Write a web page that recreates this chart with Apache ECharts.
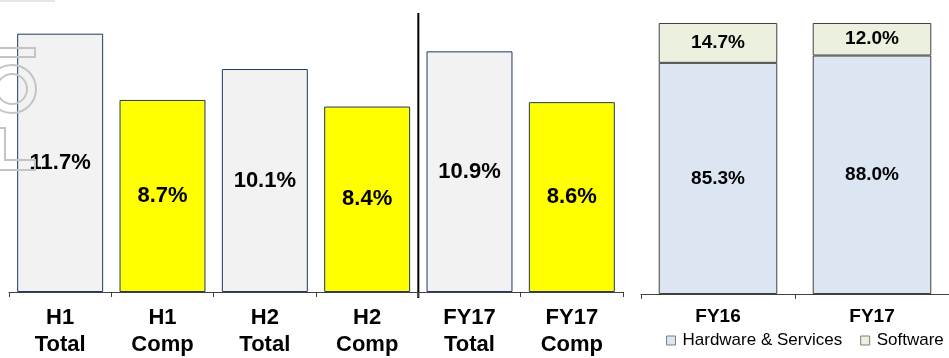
<!DOCTYPE html>
<html>
<head>
<meta charset="utf-8">
<script src="https://cdn.jsdelivr.net/npm/echarts@6/dist/echarts.min.js"></script>
<style>
  html, body { margin: 0; padding: 0; background: #fff; }
  #main { width: 949px; height: 358px; }
</style>
</head>
<body>
<div id="main"></div>
<script>
// data
const marginCats = ["H1\nTotal", "H1\nComp", "H2\nTotal", "H2\nComp", "FY17\nTotal", "FY17\nComp"]
const marginVals = [11.7, 8.7, 10.1, 8.4, 10.9, 8.6]

const mixCats = ["FY16", "FY17"]
const hardwareVals = [85.3, 88.0]
const softwareVals = [14.7, 12.0]

const font = "Arial, 'Liberation Sans', sans-serif"
const pct = p => p.value.toFixed(1) + "%"

// chart
const chartContainer = document.getElementById("main")
const myChart = echarts.init(chartContainer)

const marginData = marginVals.map((v, i) => {
  const comp = marginCats[i].includes("Comp")
  return {
    value: v,
    itemStyle: {
      color: comp ? "#ffff00" : "#f2f2f2",
      borderColor: "#1f3864",
      borderWidth: 1
    }
  }
})

const axisCommon = {
  axisLine: { lineStyle: { color: "#404040", width: 1 } },
  axisTick: { show: true, length: 5, lineStyle: { color: "#404040" } }
}

const options = {
  animation: false,
  textStyle: { fontFamily: font },
  grid: [
    { left: 9, width: 614, top: 5, bottom: 64 },
    { left: 641, width: 312, top: 23, bottom: 64 }
  ],
  legend: {
    data: ["Hardware & Services", "Software"],
    left: 666, top: 332, padding: 0,
    icon: "rect", itemWidth: 9, itemHeight: 9, itemGap: 18,
    itemStyle: { borderColor: "#7f7f7f", borderWidth: 1 },
    textStyle: { fontSize: 17, color: "#000", fontFamily: font, padding: [0, 0, 0, 2] }
  },
  xAxis: [
    {
      gridIndex: 0, type: "category", data: marginCats, ...axisCommon,
      axisLabel: { color: "#000", fontWeight: "bold", fontSize: 22, lineHeight: 27, margin: 12, interval: 0 }
    },
    {
      gridIndex: 1, type: "category", data: mixCats, ...axisCommon,
      axisLabel: { color: "#000", fontWeight: "bold", fontSize: 19, lineHeight: 20, margin: 13, interval: 0 }
    }
  ],
  yAxis: [
    { gridIndex: 0, type: "value", min: 0, max: 13, show: false },
    { gridIndex: 1, type: "value", min: 0, max: 100, show: false }
  ],
  series: [
    {
      type: "bar", xAxisIndex: 0, yAxisIndex: 0,
      data: marginData, barWidth: "84%",
      label: { show: true, position: "inside", formatter: pct, color: "#000", fontWeight: "bold", fontSize: 22 }
    },
    {
      name: "Hardware & Services", type: "bar", xAxisIndex: 1, yAxisIndex: 1, stack: "mix",
      data: hardwareVals, barWidth: "77%",
      itemStyle: { color: "#dce6f2", borderColor: "#404040", borderWidth: 1 },
      label: { show: true, position: "inside", formatter: pct, color: "#000", fontWeight: "bold", fontSize: 19 }
    },
    {
      name: "Software", type: "bar", xAxisIndex: 1, yAxisIndex: 1, stack: "mix",
      data: softwareVals, barWidth: "77%",
      itemStyle: { color: "#ebf1de", borderColor: "#404040", borderWidth: 1 },
      label: { show: true, position: "inside", formatter: pct, color: "#000", fontWeight: "bold", fontSize: 19 }
    }
  ]
}

myChart.setOption(options)

// separator between halves and full year, plus the cropped watermark outline on top
const sepX = (myChart.convertToPixel({ xAxisIndex: 0 }, 3) + myChart.convertToPixel({ xAxisIndex: 0 }, 4)) / 2
const wm = { fill: "none", stroke: "#c4c4c4", lineWidth: 2 }
myChart.setOption({
  graphic: [
    { type: "line", shape: { x1: sepX, y1: 13, x2: sepX, y2: 298 }, style: { stroke: "#000", lineWidth: 2 } },
    { type: "rect", shape: { x: 0, y: 0, width: 55, height: 2 }, style: { fill: "#e6e6e6" } },
    { type: "rect", z: 5, shape: { x: -10, y: 48, width: 45, height: 9 }, style: wm },
    { type: "circle", z: 5, shape: { cx: 12, cy: 89, r: 24 }, style: wm },
    { type: "circle", z: 5, shape: { cx: 12, cy: 89, r: 15 }, style: wm },
    {
      type: "polygon", z: 5,
      shape: { points: [[-5, 128], [5, 128], [5, 160], [35, 160], [35, 170], [-5, 170]] },
      style: wm
    }
  ]
})

window.onresize = () => myChart.resize()
</script>
</body>
</html>
